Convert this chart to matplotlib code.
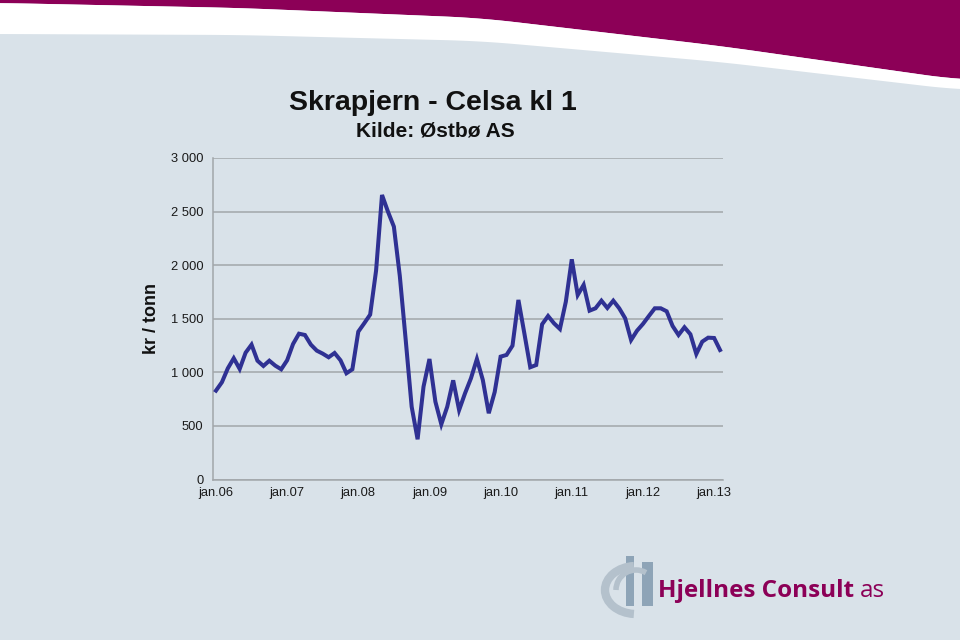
import numpy as np
import matplotlib.pyplot as plt
from matplotlib.patches import Rectangle, Arc

# månedlige priser, jan.06 - feb.13 (kr / tonn)
pris = [830, 908, 1038, 1132, 1032, 1184, 1259, 1109, 1060, 1109, 1063, 1029,
        1113, 1265, 1361, 1349, 1259, 1203, 1175, 1141, 1181, 1113, 992, 1029,
        1380, 1458, 1539, 1950, 2655, 2500, 2360, 1900, 1300, 680, 376, 867,
        1125, 727, 516, 680, 926, 649, 805, 945, 1125, 929, 619, 817,
        1147, 1163, 1249, 1676, 1365, 1048, 1069, 1449, 1526, 1458, 1405, 1660,
        2055, 1722, 1816, 1576, 1598, 1669, 1601, 1669, 1598, 1505, 1302, 1389,
        1452, 1526, 1598, 1598, 1570, 1433, 1349, 1421, 1356, 1172, 1287, 1324,
        1321, 1209]
x_etiketter = ['jan.06', 'jan.07', 'jan.08', 'jan.09', 'jan.10', 'jan.11', 'jan.12', 'jan.13']
y_ticks = [0, 500, 1000, 1500, 2000, 2500, 3000]

bakgrunn = '#d9e2e9'
magenta = '#8c0057'
linjefarge = '#2f3193'
gridfarge = '#a2a6aa'

plt.rcParams['font.family'] = ['Liberation Sans', 'DejaVu Sans']

fig = plt.figure(figsize=(9.6, 6.4), dpi=100, facecolor=bakgrunn)

# bakgrunnsbue oppe
bg = fig.add_axes([0, 0, 1, 1], zorder=0)
bg.set_xlim(0, 960)
bg.set_ylim(640, 0)
bg.axis('off')
bx = np.linspace(0, 960, 200)
kant_x = [0, 240, 480, 720, 960]
magenta_kant = [3, 8, 18, 46, 80]
hvit_kant = [34, 35, 41, 62, 90]
m_y = np.interp(bx, kant_x, magenta_kant)
h_y = np.interp(bx, kant_x, hvit_kant)
# glatt litt
k = np.ones(15) / 15
m_y = np.convolve(np.pad(m_y, 7, mode='edge'), k, mode='valid')
h_y = np.convolve(np.pad(h_y, 7, mode='edge'), k, mode='valid')
bg.fill_between(bx, 0, m_y, color=magenta, lw=0)
bg.fill_between(bx, m_y, h_y, color='white', lw=0)

# logo
bg.add_patch(Rectangle((626, 556), 8, 50, color='#8ea4b7', lw=0))
bg.add_patch(Rectangle((642, 562), 11, 44, color='#8ea4b7', lw=0))
bg.add_patch(Arc((636, 590), 62, 48, theta1=95, theta2=265, color='#b4c1cc', lw=6))
bg.add_patch(Arc((636, 590), 40, 40, theta1=180, theta2=300, color='#b4c1cc', lw=4))
navn = bg.text(658, 591, 'Hjellnes Consult', color=magenta, fontsize=17.5, fontweight='bold',
               family=['Open Sans', 'DejaVu Sans'], va='center', ha='left')
fig.canvas.draw()
bb = navn.get_window_extent()
x_as = bb.x1 / fig.dpi / fig.get_figwidth() + 6 / 960
fig.text(x_as, 1 - 591 / 640, 'as', color=magenta, fontsize=17.5,
         family=['Open Sans', 'DejaVu Sans'], va='center', ha='left', zorder=2)

ax = fig.add_axes([213 / 960, 1 - 479.6 / 640, 510 / 960, 321.6 / 640], zorder=1)
ax.set_facecolor('none')
x = np.arange(len(pris))
ax.plot(x, pris, color=linjefarge, lw=2.9, solid_joinstyle='miter', zorder=3)

ax.set_xlim(-0.5, len(pris) - 0.5)
ax.set_ylim(0, 3000)
ax.set_yticks(y_ticks)
ax.set_yticklabels([f'{v:,}'.replace(',', ' ') for v in y_ticks])
ax.set_xticks(np.arange(len(x_etiketter)) * 12)
ax.set_xticklabels(x_etiketter)
ax.tick_params(axis='both', length=0, labelsize=9.3, colors='#1a1a1a')
ax.tick_params(axis='y', pad=7)
ax.tick_params(axis='x', pad=5)
ax.grid(axis='y', color=gridfarge, lw=1.1)
ax.set_axisbelow(True)
for side in ['top', 'right']:
    ax.spines[side].set_visible(False)
for side in ['left', 'bottom']:
    ax.spines[side].set_color(gridfarge)
    ax.spines[side].set_linewidth(1.1)

ax.set_ylabel('kr / tonn', fontsize=13, fontweight='bold', color='#111111')
ax.yaxis.set_label_coords(-0.104, 0.5)

fig.text(433 / 960, 1 - 103 / 640, 'Skrapjern - Celsa kl 1', fontsize=20.5,
         fontweight='bold', ha='center', va='center', color='#111111')
fig.text(435 / 960, 1 - 131 / 640, 'Kilde: Østbø AS', fontsize=15,
         fontweight='bold', ha='center', va='center', color='#111111')

fig.savefig('out.png', dpi=100, facecolor=bakgrunn)
